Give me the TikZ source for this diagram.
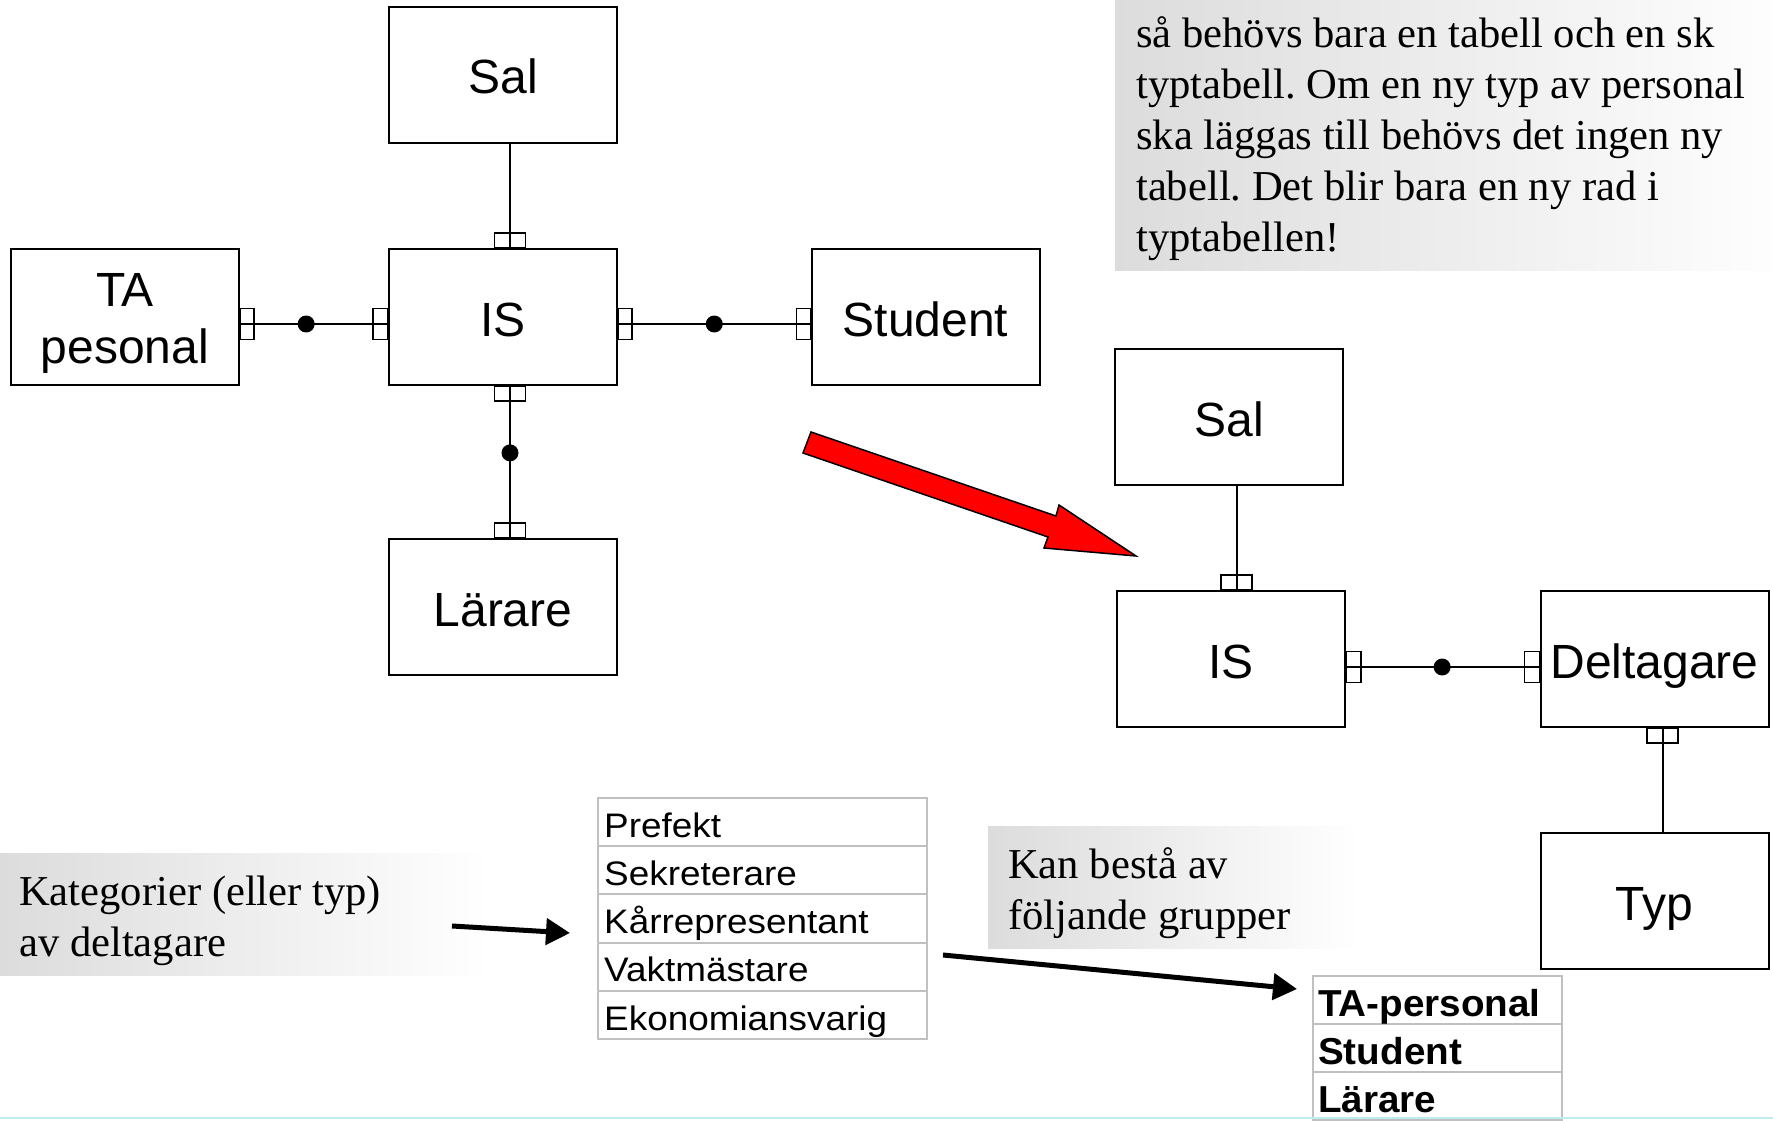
\documentclass[tikz,border=0pt]{standalone}
\usepackage{fontspec}
\setmainfont{Liberation Serif}
\newfontfamily\arialfont{Liberation Sans}
\newfontfamily\tablefont[FakeStretch=1.085]{Liberation Sans}
\newfontfamily\groupfont[FakeStretch=1.03]{Liberation Sans}
\usetikzlibrary{arrows.meta,calc}
\frenchspacing

\definecolor{boxgray}{RGB}{220,220,220}
\definecolor{gridgray}{RGB}{192,192,192}
\definecolor{arrowred}{RGB}{255,0,0}
\definecolor{edgecyan}{RGB}{190,236,240}

\tikzset{
  entbox/.style={draw=black, line width=2pt, minimum width=228pt, minimum height=136pt,
    inner sep=0pt, align=center, font=\arialfont\fontsize{48}{57}\selectfont},
  ent/.style={entbox, text height=38pt, text depth=0pt},
  link/.style={line width=2pt},
  fork/.style={draw=black, line width=1.6pt},
  joint/.style={circle, fill=black, inner sep=0pt, minimum size=17pt},
  notebox/.style={shade, left color=boxgray, right color=white, draw=none},
  noteline/.style={anchor=base west, inner sep=0pt, font=\fontsize{42.6}{51}\selectfont},
  cell/.style={draw=gridgray, line width=2pt, inner sep=0pt, anchor=north west},
  celltext/.style={anchor=base west, inner sep=0pt, font=\tablefont\fontsize{34}{40}\selectfont},
  grouptext/.style={anchor=base west, inner sep=0pt, font=\groupfont\bfseries\fontsize{37.5}{44}\selectfont},
  pointer/.style={line width=5pt, -{Triangle[length=24pt,width=26pt]}},
}

\begin{document}
\begin{tikzpicture}[x=1pt,y=-1pt]
\useasboundingbox (0,0) rectangle (1773,1121);
\begin{scope}
\clip (0,0) rectangle (1773,1121);

% shaded comment panels
\path[notebox] (1115,-10) rectangle (1800,270);
\path[notebox] (0,853) rectangle (490,975);
\path[notebox] (988,826) rectangle (1360,948);

% comment texts
\node[noteline] (c1) at (1136,47.8)  {så behövs bara en tabell och en sk};
\node[noteline] (c2) at (1136,98.6)  {typtabell. Om en ny typ av personal};
\node[noteline] (c3) at (1136,149.4) {ska läggas till behövs det ingen ny};
\node[noteline] (c4) at (1136,200.2) {tabell. Det blir bara en ny rad i};
\node[noteline] (c5) at (1136,251)   {typtabellen!};

\node[noteline] (k1) at (19,905) {Kategorier (eller typ)};
\node[noteline] (k2) at (19,956) {av deltagare};

\node[noteline] (g1) at (1008,878) {Kan bestå av};
\node[noteline] (g2) at (1008,929) {följande grupper};

% ---------- left model ----------
\node[ent] (salA) at (503,75)   {Sal};
\node[ent] (isA)  at (503,317)  {IS};
\node[entbox] (ta) at (125,317) {\rule{0pt}{46pt}TA\\pesonal};
\node[ent] (stud) at (925.5,317){Student};
\node[ent] (lar)  at (503,607)  {Lärare};

\draw[link] ([xshift=7pt]salA.south) -- ([xshift=7pt]isA.north);
\draw[link] ([yshift=-7pt]ta.east) -- node[joint, pos=0.447] (j1) {} ([yshift=-7pt]isA.west);
\draw[link] ([yshift=-7pt]isA.east) -- node[joint, pos=0.5] (j2) {} ([yshift=-7pt]stud.west);
\draw[link] ([xshift=7pt]isA.south) -- node[joint, pos=0.44] (j3) {} ([xshift=7pt]lar.north);

\draw[fork] ([xshift=7pt]isA.north)  ++(-15.5,-15) rectangle ++(31,15);
\draw[fork] ([xshift=7pt]isA.south)  ++(-15.5,0)   rectangle ++(31,15);
\draw[fork] ([xshift=7pt]lar.north)  ++(-15.5,-15) rectangle ++(31,15);
\draw[fork] ([yshift=-7pt]ta.east)   ++(0,-15.5)   rectangle ++(14,31);
\draw[fork] ([yshift=-7pt]isA.west)  ++(-15,-15.5) rectangle ++(15,31);
\draw[fork] ([yshift=-7pt]isA.east)  ++(0,-15.5)   rectangle ++(14,31);
\draw[fork] ([yshift=-7pt]stud.west) ++(-14,-15.5) rectangle ++(14,31);

% ---------- right model ----------
\node[ent] (salB) at (1229,417)   {Sal};
\node[ent] (isB)  at (1231,659)   {IS};
\node[ent] (delt) at (1654.5,659) {Deltagare};
\node[ent] (typ)  at (1654.5,901) {Typ};

\draw[link] ([xshift=7.5pt]salB.south) -- ([xshift=5.5pt]isB.north);
\draw[link] ([yshift=-8pt]isB.east) -- node[joint, pos=0.497] (j4) {} ([yshift=-8pt]delt.west);
\draw[link] ([xshift=8pt]delt.south) -- ([xshift=8pt]typ.north);

\draw[fork] ([xshift=5.5pt]isB.north) ++(-15.5,-15) rectangle ++(31,15);
\draw[fork] ([yshift=-8pt]isB.east)   ++(0,-15.5)   rectangle ++(15,31);
\draw[fork] ([yshift=-8pt]delt.west)  ++(-15,-15.5) rectangle ++(15,31);
\draw[fork] ([xshift=8pt]delt.south)  ++(-15.5,0)   rectangle ++(31,15);

% transformation arrow
\filldraw[fill=arrowred, draw=black, line width=1.5pt, line join=miter]
  (811,432) -- (1056,516) -- (1059,505) -- (1136,556) -- (1044,548) -- (1048,537) -- (803,453) -- cycle;

% ---------- category table ----------
\node[cell, minimum width=329pt, minimum height=48.2pt] (r1) at (597,797)    {};
\node[cell, minimum width=329pt, minimum height=48.2pt] (r2) at (597,845.2)  {};
\node[cell, minimum width=329pt, minimum height=48.2pt] (r3) at (597,893.4)  {};
\node[cell, minimum width=329pt, minimum height=48.2pt] (r4) at (597,941.6)  {};
\node[cell, minimum width=329pt, minimum height=48.2pt] (r5) at (597,989.8)  {};
\node[celltext] (t1) at ([xshift=7pt,yshift=10pt]r1.south west) {Prefekt};
\node[celltext] (t2) at ([xshift=7pt,yshift=10pt]r2.south west) {Sekreterare};
\node[celltext] (t3) at ([xshift=7pt,yshift=10pt]r3.south west) {Kårrepresentant};
\node[celltext] (t4) at ([xshift=7pt,yshift=10pt]r4.south west) {Vaktmästare};
\node[celltext] (t5) at ([xshift=7pt,yshift=10pt]r5.south west) {Ekonomiansvarig};

% ---------- group table ----------
\node[cell, minimum width=249pt, minimum height=48pt] (s1) at (1312,975)  {};
\node[cell, minimum width=249pt, minimum height=48pt] (s2) at (1312,1023) {};
\node[cell, minimum width=249pt, minimum height=48pt] (s3) at (1312,1071) {};
\node[grouptext] (u1) at ([xshift=6pt,yshift=9pt]s1.south west) {TA-personal};
\node[grouptext] (u2) at ([xshift=6pt,yshift=9pt]s2.south west) {Student};
\node[grouptext] (u3) at ([xshift=6pt,yshift=9pt]s3.south west) {Lärare};

% pointers
\coordinate (p1s) at (452,926);
\coordinate (p1e) at (570,933);
\coordinate (p2s) at (943,955);
\coordinate (p2e) at (1297,989);
\draw[pointer] (p1s) -- (p1e);
\draw[pointer] (p2s) -- (p2e);

% bottom rule
\draw[edgecyan, line width=2pt] (0,1118) -- (1773,1118);
\end{scope}
\end{tikzpicture}
\end{document}
